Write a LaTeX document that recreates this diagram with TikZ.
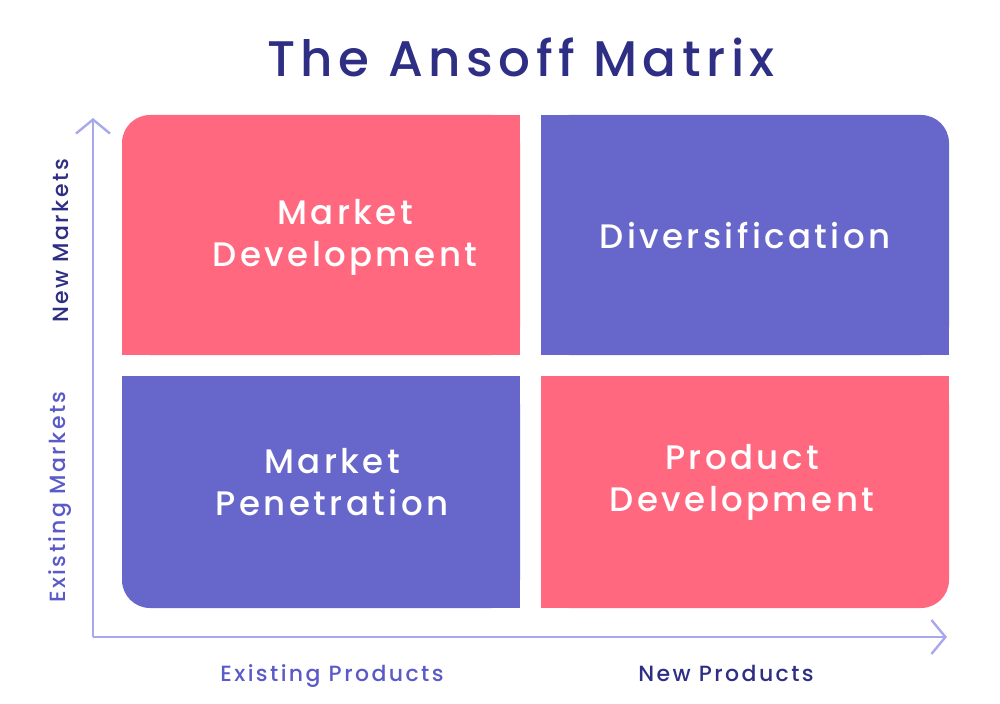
\documentclass[tikz,border=0pt]{standalone}
\usepackage{fontspec}
\setmainfont{Poppins}
\newfontfamily\quadf{Poppins}[UprightFont=* Medium, LetterSpace=10]
\newfontfamily\titlef{Poppins}[UprightFont=* Medium, LetterSpace=11]
\newfontfamily\medi{Poppins}[UprightFont=* Medium, LetterSpace=11]
\usetikzlibrary{arrows.meta}
\definecolor{pinkq}{HTML}{FF687F}
\definecolor{purpq}{HTML}{6767CB}
\definecolor{navy}{HTML}{2F2E85}
\definecolor{axisc}{HTML}{A8A8EE}
\definecolor{lblp}{HTML}{5A5AC8}
\tikzset{
  quadtext/.style={text=white, font=\quadf\fontsize{34bp}{42bp}\selectfont, align=center, inner sep=0pt},
  axislbl/.style={font=\medi\fontsize{22bp}{24bp}\selectfont, inner sep=0pt},
  axisline/.style={draw=axisc, line width=2.4bp, -{Straight Barb[length=14bp,width=34bp,line width=2.4bp]}},
}
\begin{document}
\begin{tikzpicture}[x=1bp,y=-1bp]
\useasboundingbox (0,0) rectangle (1000,704);
% quadrants
\fill[pinkq, rounded corners=28bp] (122,115) rectangle (520,355);
\fill[pinkq] (162,115) rectangle (520,355);
\fill[pinkq] (122,155) rectangle (520,355);
\fill[purpq, rounded corners=28bp] (541,115) rectangle (949,355);
\fill[purpq] (541,115) rectangle (909,355);
\fill[purpq] (541,155) rectangle (949,355);
\fill[purpq, rounded corners=28bp] (122,376) rectangle (520,608);
\fill[purpq] (162,376) rectangle (520,608);
\fill[purpq] (122,376) rectangle (520,568);
\fill[pinkq, rounded corners=28bp] (541,376) rectangle (949,608);
\fill[pinkq] (541,376) rectangle (909,608);
\fill[pinkq] (541,376) rectangle (949,568);
% texts
\node[font=\titlef\fontsize{50bp}{60bp}\selectfont, text=navy, inner sep=0pt] (title) at (521,57) {The Ansoff Matrix};
\node[quadtext] (md) at (345,237) {Market\\Development};
\node[quadtext] (dv) at (745,236) {Diversification};
\node[quadtext] (mp) at (332,482) {Market\\Penetration};
\node[quadtext] (pd) at (742,482) {Product\\Development};
% axes
\coordinate (O) at (93,637);
\coordinate (Ytip) at (93,118);
\coordinate (Xtip) at (947,637);
\draw[axisline] (O) -- (Ytip);
\draw[axisline] (O) -- (Xtip);
\node[axislbl, text=navy, rotate=90] (nm) at (60,241) {New Markets};
\node[axislbl, text=lblp, rotate=90] (em) at (60,497) {Existing Markets};
\node[axislbl, text=lblp] (ep) at (332,676) {Existing Products};
\node[axislbl, text=navy] (np) at (726,673) {New Products};
\end{tikzpicture}
\end{document}
